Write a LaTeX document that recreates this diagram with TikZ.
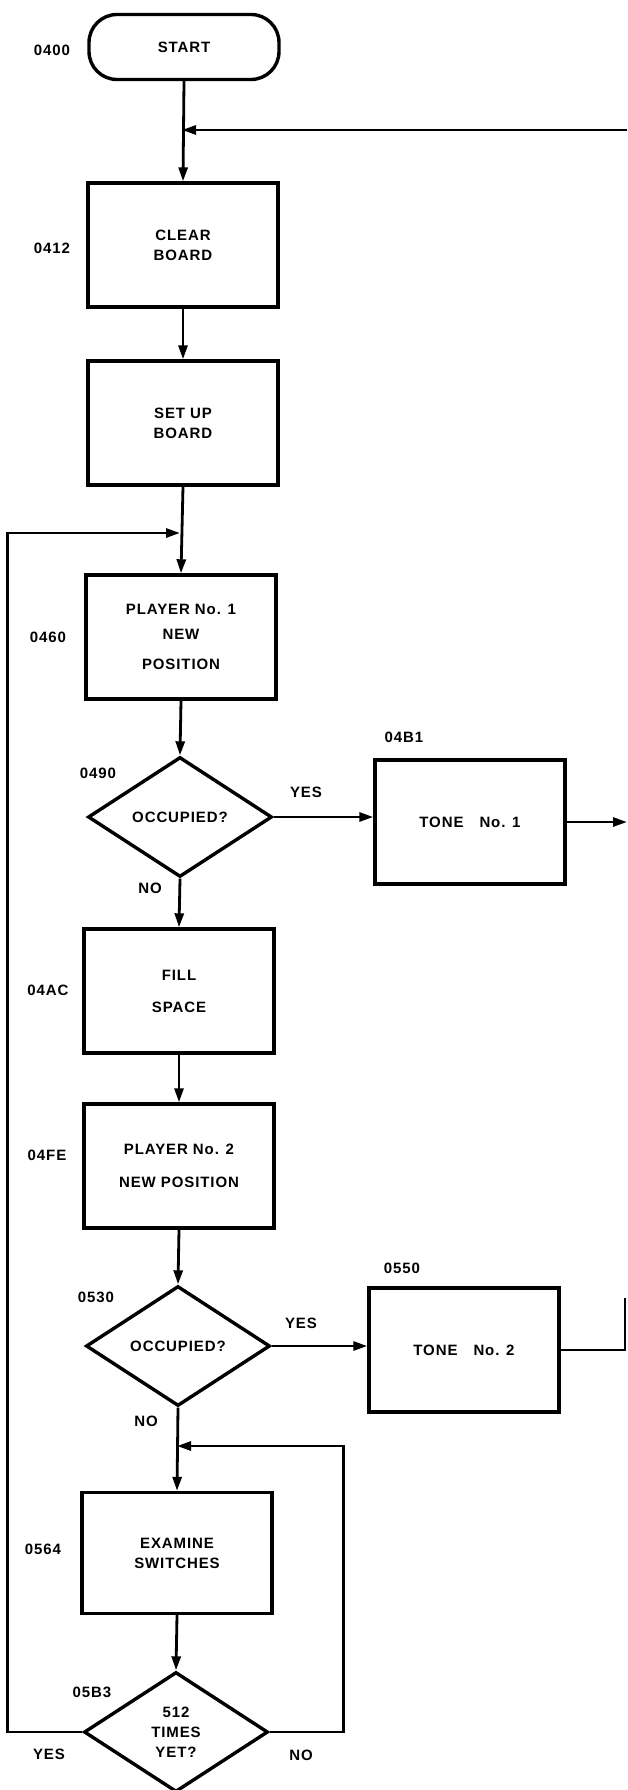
\documentclass[tikz,border=0pt]{standalone}
\usepackage{fontspec}
\setmainfont{Liberation Sans}[LetterSpace=6]
\usepackage{tikz}
\usetikzlibrary{shapes}
\usetikzlibrary{shapes.geometric}
\usetikzlibrary{arrows.meta}

\begin{document}
\begin{tikzpicture}[x = 1pt, y = -1pt,
  every node/.style = {font = \fontsize{15}{20}\selectfont\bfseries},
  box/.style = {draw, line width = 3.4pt, minimum width = 190pt, minimum height = 124pt, align = center, inner sep = 0pt},
  term/.style = {draw, line width = 3.4pt, rounded corners = 28pt, minimum width = 190pt, minimum height = 65pt},
  test/.style = {draw, diamond, aspect = 1.5, line width = 3.4pt, minimum width = 184pt, minimum height = 120pt, inner sep = 0pt, align = center},
  addr/.style = {inner sep = 0pt},
  flow/.style = {line width = 2.8pt, -{Triangle[length = 14pt, width = 9pt]}},
  wire/.style = {line width = 2.8pt}]
 \useasboundingbox (0, 0) rectangle (627, 1790);
 \coordinate (j1) at (182, 130);
 \coordinate (back) at (627, 130);
 \coordinate (j2) at (180, 533);
 \coordinate (j3) at (177, 1446);
 \coordinate (out1) at (627, 822);
 \coordinate (out2) at (625, 1350);

 \node[term] (start) at (184, 47) {START};
 \node[box] (clear) at (183, 245) {CLEAR\\BOARD};
 \node[box] (setup) at (183, 423) {SET UP\\BOARD};
 \node[box] (play1) at (181, 637) {PLAYER No. 1\\[5pt]NEW\\[10pt]POSITION};
 \node[test] (occ1) at (180, 817) {OCCUPIED?};
 \node[box] (tone1) at (470, 822) {TONE\hspace{16pt}No. 1};
 \node[box] (fill) at (179, 991) {FILL\\[12pt]SPACE};
 \node[box] (play2) at (179, 1166) {PLAYER No. 2\\[13pt]NEW POSITION};
 \node[test] (occ2) at (178, 1346) {OCCUPIED?};
 \node[box] (tone2) at (464, 1350) {TONE\hspace{16pt}No. 2};
 \node[box, minimum height = 121pt] (exam) at (177, 1553) {EXAMINE\\SWITCHES};
 \node[test] (times) at (176, 1732) {512\\TIMES\\YET?};

 \node[addr] (a400) at (52, 50) {0400};
 \node[addr] (a412) at (52, 248) {0412};
 \node[addr] (a460) at (48, 637) {0460};
 \node[addr] (a490) at (98, 773) {0490};
 \node[addr] (y490) at (306, 792) {YES};
 \node[addr] (n490) at (150, 888) {NO};
 \node[addr] (a4b1) at (404, 737) {04B1};
 \node[addr] (a4ac) at (48, 990) {04AC};
 \node[addr] (a4fe) at (47, 1155) {04FE};
 \node[addr] (a550) at (402, 1268) {0550};
 \node[addr] (a530) at (96, 1297) {0530};
 \node[addr] (y530) at (301, 1323) {YES};
 \node[addr] (n530) at (146, 1421) {NO};
 \node[addr] (a564) at (43, 1549) {0564};
 \node[addr] (a5b3) at (92, 1692) {05B3};
 \node[addr] (y5b3) at (49, 1754) {YES};
 \node[addr] (n5b3) at (301, 1755) {NO};

 \draw[flow] (start.south) -- (clear.north);
 \draw[flow] (back) -- (j1);
 \draw[flow] (clear.south) -- (setup.north);
 \draw[flow] (setup.south) -- (play1.north);
 \draw[flow] (play1.south) -- (occ1.north);
 \draw[flow] (occ1.east) -- (occ1.east -| tone1.west);
 \draw[flow] (tone1.east) -- (out1);
 \draw[flow] (occ1.south) -- (fill.north);
 \draw[flow] (fill.south) -- (play2.north);
 \draw[flow] (play2.south) -- (occ2.north);
 \draw[flow] (occ2.east) -- (occ2.east -| tone2.west);
 \draw[wire] (tone2.east) -- (out2) -- ++(0, -52);
 \draw[flow] (occ2.south) -- (exam.north);
 \draw[flow] (exam.south) -- (times.north);
 \draw[flow] (times.west) -- ++(-75, 0) |- (j2);
 \draw[flow] (times.east) -- ++(74, 0) |- (j3);
\end{tikzpicture}
\end{document}
